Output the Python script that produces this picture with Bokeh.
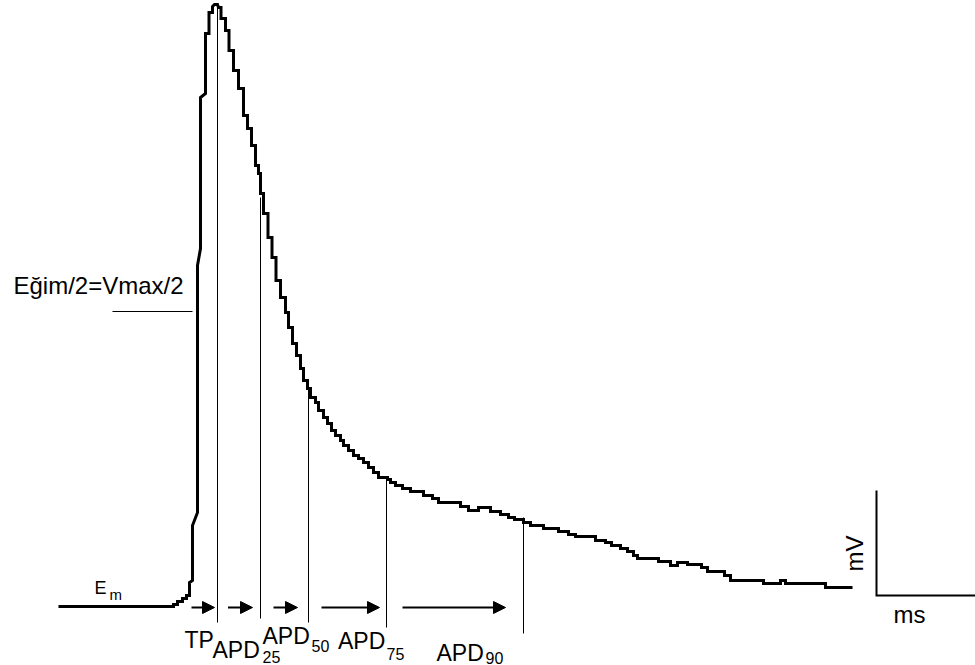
from bokeh.plotting import figure
from bokeh.models import Range1d, ColumnDataSource, Arrow, NormalHead
from bokeh.core.properties import value
from bokeh.embed import file_html
from bokeh.resources import INLINE

trace_t = [0, 115, 115, 119, 119, 124, 124, 128, 128, 131, 131, 134, 134, 139, 139, 142, 142, 147, 147,
           150.5, 150.5, 154, 154, 156, 159, 160, 162.5, 162.5, 167, 167, 170.5, 170.5, 175, 175, 180, 180,
           185, 185, 189, 189, 193, 193, 197, 197, 200, 200, 202, 202, 205, 205, 209.5, 209.5, 213.5, 213.5,
           217.5, 217.5, 222, 222, 227, 227, 230, 230, 234, 234, 238, 238, 242, 242, 245, 245, 249, 249,
           252, 252, 257, 257, 260, 260, 265, 265, 269, 269, 273, 273, 277, 277, 282, 282, 285, 285, 290, 290,
           295, 295, 300, 300, 305, 305, 310, 310, 315, 315, 320, 320, 329, 329, 332, 332, 337, 337, 344, 344,
           352, 352, 365, 365, 374, 374, 380, 380, 402, 402, 410, 410, 420, 420, 432, 432, 442, 442, 450, 450,
           456, 456, 465, 465, 472, 472, 485, 485, 500, 500, 510, 510, 517, 517, 537, 537, 547, 547, 553, 553,
           562, 562, 569, 569, 575, 575, 579, 579, 600, 600, 612, 612, 619, 619, 629, 629, 643, 643, 649, 649,
           666, 666, 672, 672, 705, 705, 722, 722, 727, 727, 767, 767, 794]
trace_v = [0, 0, 2, 2, 5, 5, 8, 8, 11, 11, 24, 26, 81, 94, 341, 358, 509, 513, 573,
           573, 594, 594, 600, 602, 602, 599, 599, 588, 588, 576, 576, 556, 556, 536, 536, 518,
           518, 491, 491, 478, 478, 461, 461, 441, 441, 433, 433, 413, 413, 393, 393, 369, 369, 349,
           349, 326, 326, 309, 309, 294, 294, 279, 279, 263, 263, 251, 251, 238, 238, 226, 226, 218,
           218, 209, 209, 204, 204, 196, 196, 189, 189, 183, 183, 176, 176, 171, 171, 166, 166, 161, 161, 156,
           156, 151, 151, 148, 148, 144, 144, 139, 139, 134, 134, 129, 129, 127, 127, 124, 124, 121, 121, 118,
           118, 115, 115, 111, 111, 108, 108, 104, 104, 100, 100, 96, 96, 99, 99, 95, 95, 92, 92, 89,
           89, 87, 87, 84, 84, 81, 81, 78, 78, 75, 75, 72, 72, 70, 70, 66, 66, 64, 64, 61,
           61, 58, 58, 55, 55, 51, 51, 48, 48, 45, 45, 41, 41, 44, 44, 42, 42, 39, 39, 35,
           35, 31, 31, 26, 26, 23, 23, 26, 26, 23, 23, 19, 19]

# Measurement markers
marker_t = [159, 202, 250, 328, 465]
marker_top = [599, 409, 218, 127, 89]
marker_bottom = [-16, -12, -16, -21, -27]

# Interval arrows
arrow_start = [133, 169.5, 215, 263, 344]
arrow_end = [156, 194, 239, 321, 447]
arrow_level = [-1, -1, -1, -1, -1]

# Half-slope reference line
half_t = [54, 134]
half_v = [295, 295]

# Interval labels (main part and subscript)
main_labels = ["TP", "APD", "APD", "APD", "APD"]
main_label_t = [126, 154, 204, 279.5, 378]
main_label_v = [-33, -43, -29, -34, -46]
sub_labels = ["25", "50", "75", "90"]
sub_label_t = [204, 253, 328, 427]
sub_label_v = [-50, -39, -47, -51]

# Scale bar
scale_t = [818, 818, 917]
scale_v = [116, 11, 11]

p = figure(width=975, height=665, x_range=Range1d(-58, 917), y_range=Range1d(-59, 606),
           x_axis_type=None, y_axis_type=None, toolbar_location=None, output_backend="svg",
           min_border=0, outline_line_color=None, background_fill_color="white",
           border_fill_color="white")

p.line(trace_t, trace_v, line_width=3, color="black", line_join="miter")
p.segment(x0=marker_t, y0=marker_bottom, x1=marker_t, y1=marker_top, line_width=1, color="black")
p.line(half_t, half_v, line_width=1, color="black")
p.line(scale_t, scale_v, line_width=2, color="black", line_join="miter")

asrc = ColumnDataSource(dict(x0=arrow_start, x1=arrow_end, y=arrow_level))
p.add_layout(Arrow(end=NormalHead(size=12, fill_color="black", line_color="black"),
                   x_start="x0", y_start="y", x_end="x1", y_end="y", source=asrc,
                   line_width=2, line_color="black"))

font = value("Liberation Sans")

p.text(x=main_label_t, y=main_label_v, text=main_labels, text_font=font, text_font_size="23px",
       text_baseline="middle", text_align="left", text_color="black")
p.text(x=sub_label_t, y=sub_label_v, text=sub_labels, text_font=font,
       text_font_size="16px", text_baseline="middle", text_align="left", text_color="black")

p.text(x=[-45], y=[321.5], text=["Eğim/2=Vmax/2"], text_font=font, text_font_size="24px",
       text_baseline="middle", text_align="left", text_color="black")
p.text(x=[36], y=[18.5], text=["E"], text_font=font, text_font_size="18px",
       text_baseline="middle", text_align="left", text_color="black")
p.text(x=[51], y=[12], text=["m"], text_font=font, text_font_size="15px",
       text_baseline="middle", text_align="left", text_color="black")
p.text(x=[835], y=[-7.6], text=["ms"], text_font=font, text_font_size="24px",
       text_baseline="middle", text_align="left", text_color="black")
p.text(x=[796], y=[53], text=["mV"], text_font=font, text_font_size="24px", angle=1.5708,
       text_baseline="middle", text_align="center", text_color="black")

open("out.html", "w").write(file_html(p, INLINE))
